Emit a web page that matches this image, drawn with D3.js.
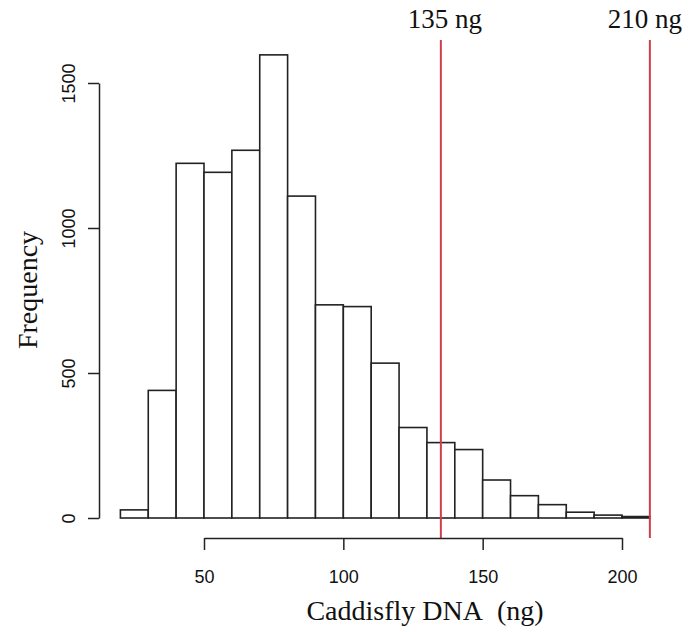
<!DOCTYPE html>
<html>
<head>
<meta charset="utf-8">
<script src="https://cdn.jsdelivr.net/npm/d3@7"></script>
<style>
  body { margin: 0; background: #fff; }
  .axis path, .axis line { stroke: #222; stroke-width: 1.5px; }
  .axis text { font-family: "Liberation Sans", Arial, sans-serif; font-size: 18px; fill: #111; }
  .title { font-family: "Liberation Serif", "Times New Roman", serif; font-size: 28px; fill: #111; }
  .cut { font-family: "Liberation Serif", "Times New Roman", serif; font-size: 27px; fill: #111; }
</style>
</head>
<body>
<div id="chart"></div>
<script>
// histogram bins (ng) and counts
const binStarts = [20, 30, 40, 50, 60, 70, 80, 90, 100, 110, 120, 130, 140, 150, 160, 170, 180, 190, 200];
const binWidth = 10;
const counts = [28, 440, 1223, 1192, 1268, 1597, 1110, 735, 729, 534, 312, 260, 236, 131, 77, 46, 20, 10, 5];
const xTicks = [50, 100, 150, 200];
const yTicks = [0, 500, 1000, 1500];
// thresholds marked in red
const cutoffs = [135, 210];
const cutoffLabels = ["135 ng", "210 ng"];

const width = 689, height = 632;

const svg = d3.select("#chart")
  .append("svg")
  .attr("width", width)
  .attr("height", height);

const x = d3.scaleLinear().domain([50, 200]).range([204, 622]);
const y = d3.scaleLinear().domain([0, 1500]).range([518, 83]);

const bins = binStarts.map((b, i) => ({ x0: b, x1: b + binWidth, n: counts[i] }));

// bars
svg.append("g")
  .selectAll("rect")
  .data(bins)
  .join("rect")
  .attr("x", d => x(d.x0))
  .attr("y", d => y(d.n))
  .attr("width", d => x(d.x1) - x(d.x0))
  .attr("height", d => y(0) - y(d.n))
  .attr("fill", "#fff")
  .attr("stroke", "#222")
  .attr("stroke-width", 1.6);

// cutoff lines
svg.append("g")
  .selectAll("line")
  .data(cutoffs)
  .join("line")
  .attr("x1", d => x(d))
  .attr("x2", d => x(d))
  .attr("y1", 40)
  .attr("y2", 538)
  .attr("stroke", "#d0404c")
  .attr("stroke-width", 2);

svg.append("g")
  .selectAll("text")
  .data(cutoffs)
  .join("text")
  .attr("class", "cut")
  .attr("x", (d, i) => x(d) + (i === 1 ? -5 : 4))
  .attr("y", 28)
  .attr("text-anchor", "middle")
  .text((d, i) => cutoffLabels[i]);

// x axis
const xAxis = svg.append("g")
  .attr("class", "axis")
  .attr("transform", "translate(0,538)")
  .call(d3.axisBottom(x).tickValues(xTicks).tickFormat(d3.format("d")).tickSize(12).tickSizeOuter(0));
xAxis.selectAll("text").attr("y", 45).attr("dy", 0);

// y axis
const yAxis = svg.append("g")
  .attr("class", "axis")
  .attr("transform", "translate(99,0)")
  .call(d3.axisLeft(y).tickValues(yTicks).tickFormat(d3.format("d")).tickSize(11).tickSizeOuter(0));
yAxis.selectAll("text")
  .attr("transform", "rotate(-90)")
  .attr("x", 0)
  .attr("y", -24)
  .attr("dy", 0)
  .attr("text-anchor", "middle");

// axis titles
svg.append("text")
  .attr("class", "title")
  .attr("x", 425)
  .attr("y", 620)
  .attr("text-anchor", "middle")
  .text("Caddisfly DNA\u00a0 (ng)");

svg.append("text")
  .attr("class", "title")
  .attr("transform", "translate(37,290) rotate(-90)")
  .attr("text-anchor", "middle")
  .text("Frequency");
</script>
</body>
</html>
